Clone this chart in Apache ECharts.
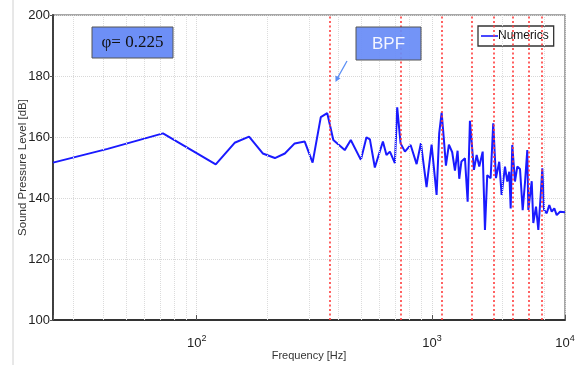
<!DOCTYPE html>
<html>
<head>
<meta charset="utf-8">
<script src="https://cdn.jsdelivr.net/npm/echarts@6/dist/echarts.min.js"></script>
<style>
  html, body { margin: 0; padding: 0; background: #fff; }
  #chart { width: 584px; height: 365px; }
</style>
</head>
<body>
<div id="chart"></div>
<script>
// frequency of each sample (Hz)
const freqHz = [
  24.5, 41.8, 71.9, 120.5, 145, 167, 191, 215, 237, 261,
  288, 311, 337, 359, 381, 426, 452, 499, 527, 545,
  572, 619, 641, 663, 696, 712, 736, 768, 812, 861,
  898, 949, 997, 1047, 1074, 1100, 1125, 1147, 1181, 1220,
  1253, 1286, 1307, 1335, 1382, 1419, 1451, 1509, 1550, 1590,
  1644, 1681, 1719, 1777, 1823, 1872, 1933, 1979, 2045, 2092,
  2133, 2162, 2196, 2255, 2307, 2369, 2432, 2487, 2544, 2570,
  2657, 2698, 2771, 2834, 2901, 2947, 2996, 3077, 3156, 3231,
  3314, 3393, 3505, 3680
];
// sound pressure level (dB)
const splDb = [
  151.6, 156.1, 161.2, 151, 158.1, 160.1, 154.6, 153.1, 154.6, 157.9,
  158.5, 151.6, 166.5, 167.8, 159, 155.7, 159, 152.5, 159.9, 159.2,
  150, 158.5, 154.1, 155.2, 151.4, 169.7, 157.9, 155.2, 157.4, 151.1,
  158, 143.6, 157.5, 141, 161.2, 168, 159, 150.6, 157.5, 155,
  149, 155.5, 146.3, 152, 153, 138.8, 165.3, 149.2, 154.1, 150.3,
  155.2, 129.5, 147.5, 146.5, 164.5, 146.5, 151.9, 141, 150.3, 145.4,
  148.6, 136.6, 157.4, 145.4, 150.3, 149.5, 136, 145, 155.7, 136.1,
  145.5, 131.8, 137.2, 129.5, 141, 149.7, 136.1, 135, 137.7, 135.5,
  136.6, 134.4, 135.5, 135.3
];
// blade passing frequency and its harmonics (Hz)
const bpfLines = [368, 736, 1104, 1472, 1840, 2208, 2576, 2944];
// minor log grid positions (Hz)
const minorGrid = [30, 40, 50, 60, 70, 80, 90, 200, 300, 400, 500, 600, 700, 800, 900, 2000, 3000];

const xMin = 24.5, xMax = 3680;

const chart = echarts.init(document.getElementById('chart'));

const option = {
  animation: false,
  backgroundColor: '#fff',
  textStyle: {fontFamily: 'Liberation Sans, Arial, sans-serif'},
  grid: {
    left: 53, top: 15, right: 19, bottom: 45,
    outerBoundsMode: 'none',
    show: true,
    borderColor: '#8a8a8a',
    borderWidth: 1.5,
  },
  legend: {
    left: 478, top: 26,
    orient: 'vertical',
    backgroundColor: '#fff',
    borderColor: '#333',
    borderWidth: 1.3,
    borderRadius: 0,
    padding: [4, 5, 4, 3],
    itemWidth: 17,
    itemHeight: 10,
    itemGap: 0,
    icon: 'path://M0,4.2 L17,4.2 L17,5.8 L0,5.8 Z',
    textStyle: {fontSize: 12, color: '#111', padding: [0, 0, 0, -5]},
    data: ['Numerics'],
  },
  xAxis: {
    type: 'log',
    logBase: 10,
    min: xMin,
    max: xMax,
    name: 'Frequency [Hz]',
    nameLocation: 'middle',
    nameGap: 30,
    nameMoveOverlap: false,
    nameTextStyle: {fontSize: 11, color: '#333'},
    axisLine: {lineStyle: {color: '#333', width: 1.8}},
    axisTick: {show: true, inside: true, length: 5, lineStyle: {color: '#555'}},
    splitLine: {show: true, lineStyle: {color: '#d8d8d8', type: 'dotted', width: 1}},
    axisLabel: {
      margin: 14,
      color: '#222',
      fontSize: 13,
      showMinLabel: true,
      showMaxLabel: true,
      formatter: (v) => {
        if (Math.abs(v - 100) < 1) return '10{s|2}';
        if (Math.abs(v - 1000) < 1) return '10{s|3}';
        if (v > 3000) return '10{s|4}';
        return '';
      },
      rich: {
        s: {fontSize: 9, color: '#222', padding: [0, 0, 9, 0]},
      },
    },
  },
  yAxis: {
    type: 'value',
    min: 100,
    max: 200,
    interval: 20,
    name: 'Sound Pressure Level [dB]',
    nameLocation: 'middle',
    nameGap: 24,
    nameMoveOverlap: false,
    nameTextStyle: {fontSize: 11.5, color: '#333'},
    axisLine: {show: true, lineStyle: {color: '#333', width: 1.8}},
    axisTick: {show: true, length: 3, lineStyle: {color: '#555'}},
    splitLine: {show: true, lineStyle: {color: '#d8d8d8', type: 'dotted', width: 1}},
    axisLabel: {margin: 3, color: '#222', fontSize: 13},
  },
  series: [
    {
      name: 'grid',
      type: 'line',
      data: [],
      silent: true,
      markLine: {
        silent: true,
        symbol: 'none',
        label: {show: false},
        lineStyle: {color: '#dcdcdc', type: 'dotted', width: 1},
        data: minorGrid.map(f => ({xAxis: f})),
      },
    },
    {
      name: 'bpf',
      type: 'line',
      data: [],
      silent: true,
      z: 3,
      markLine: {
        silent: true,
        symbol: 'none',
        label: {show: false},
        lineStyle: {color: '#ff3b3b', type: [2, 2.5], width: 1.6},
        data: bpfLines.map(f => ({xAxis: f})),
      },
    },
    {
      name: 'Numerics',
      type: 'line',
      z: 4,
      data: freqHz.map((f, i) => [f, splDb[i]]),
      showSymbol: false,
      smooth: false,
      lineStyle: {color: '#1a1aff', width: 2},
      itemStyle: {color: '#1a1aff'},
    },
  ],
  graphic: [
    // faint frame line on the left edge of the picture
    {type: 'line', shape: {x1: 13, y1: 0, x2: 13, y2: 365}, style: {stroke: '#d0d0d0', lineWidth: 1}, silent: true},
    // phi box
    {
      type: 'rect', shape: {x: 92, y: 27, width: 81, height: 31},
      style: {fill: '#6d8ff6', stroke: '#555', lineWidth: 1}, z: 10,
    },
    {
      type: 'text', x: 132.5, y: 42.5, z: 11,
      style: {text: 'φ= 0.225', fill: '#111', font: '17px "Liberation Serif", "DejaVu Serif", serif', align: 'center', verticalAlign: 'middle'},
    },
    // BPF box
    {
      type: 'rect', shape: {x: 356, y: 27, width: 65, height: 33},
      style: {fill: 'rgba(104,140,246,0.93)', stroke: '#555', lineWidth: 1}, z: 10,
    },
    {
      type: 'text', x: 388.5, y: 44, z: 11,
      style: {text: 'BPF', fill: '#f4f6ff', font: '17px "Liberation Sans", Arial, sans-serif', align: 'center', verticalAlign: 'middle'},
    },
    // arrow pointing at first BPF line
    {
      type: 'line', shape: {x1: 347, y1: 61, x2: 337.5, y2: 78}, z: 10,
      style: {stroke: '#5b8ff5', lineWidth: 1.3},
    },
    {
      type: 'polygon', shape: {points: [[335.5, 82], [335.4, 75.5], [340.5, 78.2]]}, z: 10,
      style: {fill: '#5b8ff5'},
    },
  ],
};

chart.setOption(option);
</script>
</body>
</html>
